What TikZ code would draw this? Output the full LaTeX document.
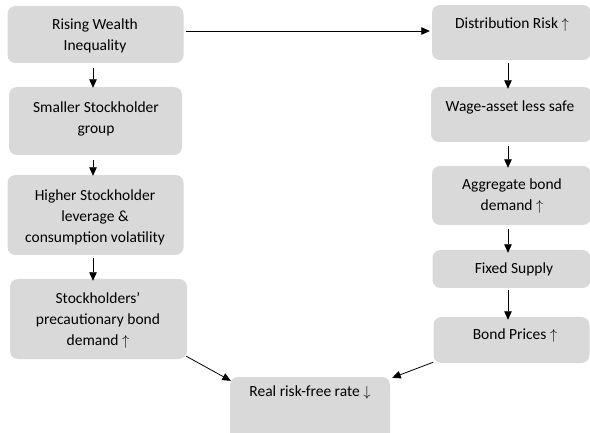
\documentclass[tikz,border=0pt]{standalone}
\usepackage{fontspec}
\setmainfont{Carlito}
\usetikzlibrary{arrows.meta}
\definecolor{boxgray}{RGB}{217,217,217}
\tikzset{
  box/.style={fill=boxgray, rounded corners=8pt, draw=none, inner sep=0pt},
  txt/.style={align=center, inner sep=0pt, font=\fontsize{15.5}{21}\selectfont},
  arr/.style={-{Triangle[length=8.5pt,width=7.5pt]}, line width=0.8pt, black}
}
\newcommand{\upar}{$\uparrow$}
\newcommand{\dnar}{$\downarrow$}
\begin{document}
\begin{tikzpicture}[x=1pt,y=-1pt]
\useasboundingbox (0,0) rectangle (590,433);
% left column boxes
\node[box, minimum width=176pt, minimum height=57pt] (b1) at (95.5,34.5) {};
\node[box, minimum width=173pt, minimum height=68pt] (b2) at (95.5,121) {};
\node[box, minimum width=176pt, minimum height=80pt] (b3) at (95.5,215) {};
\node[box, minimum width=177pt, minimum height=80pt] (b4) at (98.5,319) {};
% right column boxes
\node[box, minimum width=159pt, minimum height=55pt] (r1) at (511.5,32.5) {};
\node[box, minimum width=161pt, minimum height=55pt] (r2) at (511.5,114.5) {};
\node[box, minimum width=159pt, minimum height=59pt] (r3) at (511.5,195.5) {};
\node[box, minimum width=158pt, minimum height=38pt] (r4) at (511.5,269) {};
\node[box, minimum width=156pt, minimum height=46pt] (r5) at (511.5,340) {};
% bottom box
\node[box, minimum width=160pt, minimum height=75pt] (rr) at (310,414.5) {};
% texts
\node[txt] (t1) at (95,35.5) {Rising Wealth\\Inequality};
\node[txt] (t2) at (96,118.5) {Smaller Stockholder\\group};
\node[txt] (t3) at (95,217) {Higher Stockholder\\leverage \&\\consumption volatility};
\node[txt] (t4) at (98,320) {Stockholders’\\precautionary bond\\demand \upar};
\node[txt] (u1) at (512,25) {Distribution Risk \upar};
\node[txt] (u2) at (510,107) {Wage-asset less safe};
\node[txt] (u3) at (512,196) {Aggregate bond\\demand \upar};
\node[txt] (u4) at (514,269) {Fixed Supply};
\node[txt] (u5) at (515,336) {Bond Prices \upar};
\node[txt] (v1) at (310,393) {Real risk-free rate \dnar};
% connectors
\draw[arr] ([xshift=-2.5pt,yshift=-5pt]b1.south) -- ([xshift=-2.5pt,yshift=-1pt]b2.north);
\draw[arr] ([xshift=-2.5pt,yshift=-5pt]b2.south) -- ([xshift=-2.5pt,yshift=-1pt]b3.north);
\draw[arr] ([xshift=-2.5pt,yshift=-3pt]b3.south) -- ([xshift=-5.5pt,yshift=-2pt]b4.north);
\draw[arr] ([xshift=2pt,yshift=3.5pt]b1.east) -- ([xshift=-2pt,yshift=1.5pt]r1.west);
\draw[arr] ([xshift=-3.5pt,yshift=-3pt]r1.south) -- ([xshift=-3.5pt,yshift=-2pt]r2.north);
\draw[arr] ([xshift=-3.5pt,yshift=-4pt]r2.south) -- ([xshift=-3.5pt,yshift=-2pt]r3.north);
\draw[arr] ([xshift=-3.5pt,yshift=-4pt]r3.south) -- ([xshift=-3.5pt,yshift=-3pt]r4.north);
\draw[arr] ([xshift=-3.5pt,yshift=-2pt]r4.south) -- ([xshift=-3.5pt,yshift=-3pt]r5.north);
\draw[arr] ([xshift=-1pt,yshift=3pt]b4.south east) -- ([xshift=1pt,yshift=-4pt]rr.north west);
\draw[arr] ([yshift=1pt]r5.south west) -- ([xshift=2pt,yshift=-1pt]rr.north east);
\end{tikzpicture}
\end{document}
